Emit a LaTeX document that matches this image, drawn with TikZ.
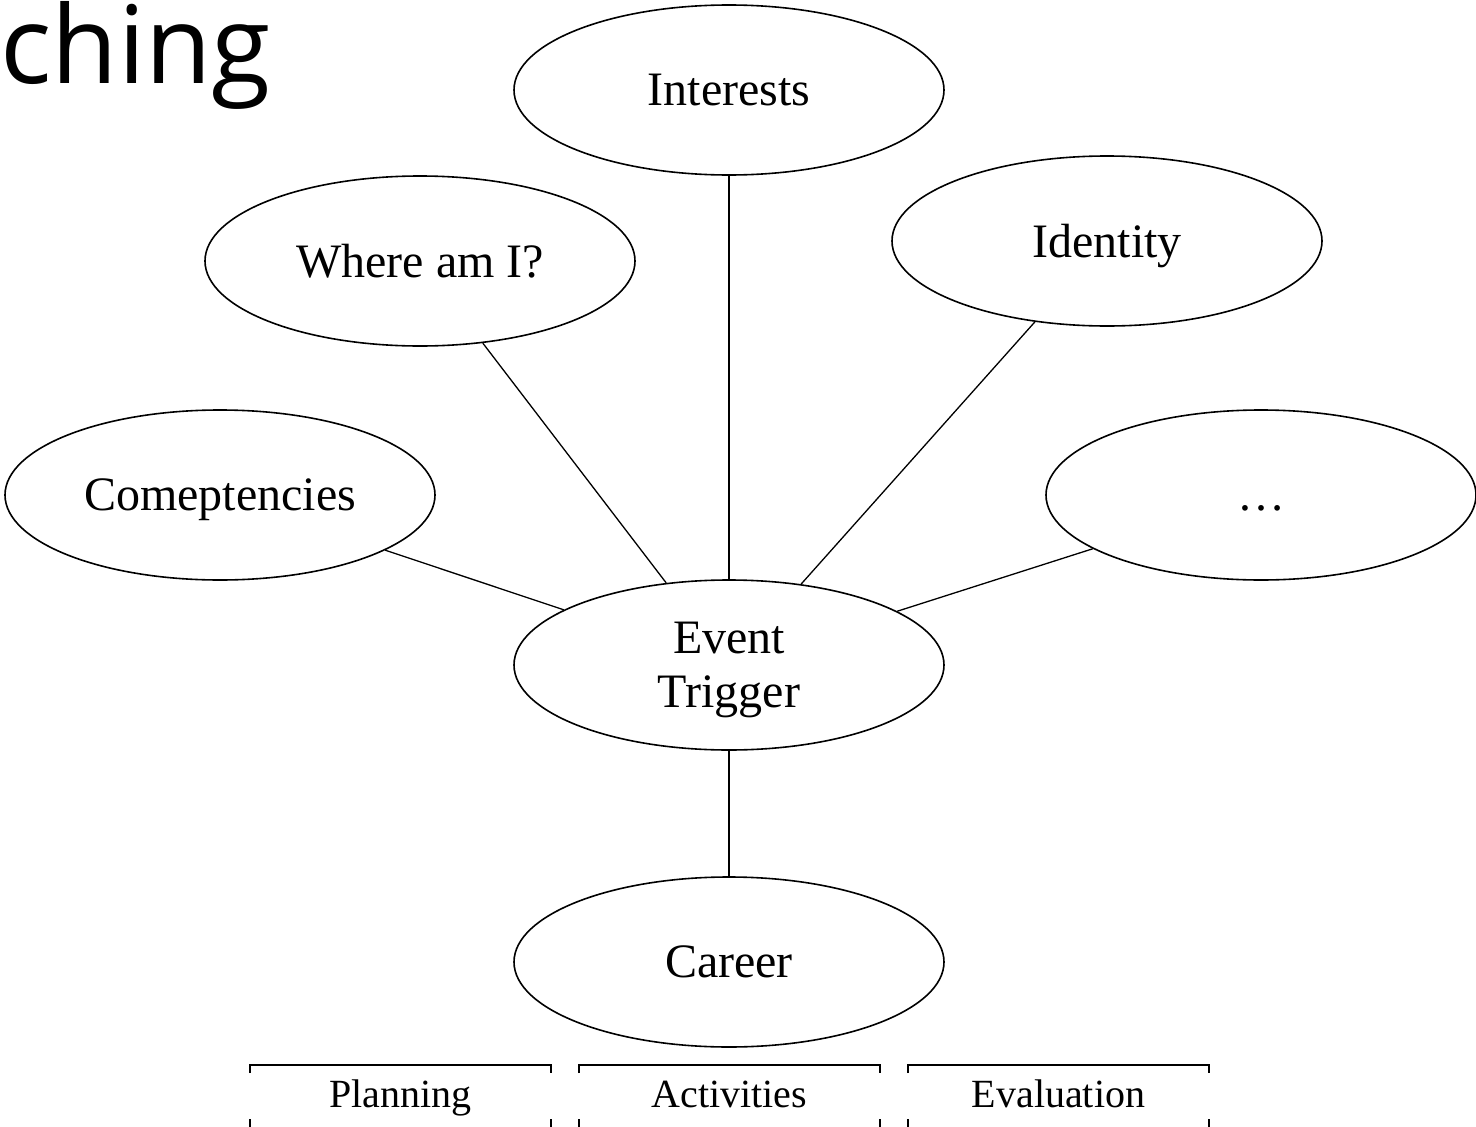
\documentclass[tikz,border=0pt]{standalone}
\usepackage{fontspec}
\setmainfont{Liberation Serif}
\newfontfamily\titlefont{Open Sans}
\usetikzlibrary{shapes.geometric}
\begin{document}
\begin{tikzpicture}[x=1pt,y=-1pt,
  bubble/.style={ellipse,draw,line width=1.6pt,minimum width=430pt,minimum height=170pt,inner sep=0pt,
    font=\fontsize{48}{54}\selectfont,align=center,text depth=0pt},
  link/.style={line width=1.3pt},
  bracket/.style={line width=1.3pt},
  lbl/.style={font=\fontsize{40}{44}\selectfont,anchor=base}]
\clip (0,0) rectangle (1476,1127);
\useasboundingbox (0,0) rectangle (1476,1127);
\fill[white] (0,0) rectangle (1476,1127);
\node[anchor=base east,inner sep=0pt,font=\titlefont\fontsize{108}{116}\selectfont] (title) at (271,83) {ching};
\node[bubble] (interests) at (729,90) {Interests};
\node[bubble] (where) at (420,261) {Where am I?};
\node[bubble] (identity) at (1107,241) {Identity};
\node[bubble] (comp) at (220,495) {Comeptencies};
\node[bubble] (more) at (1261,495) {\vphantom{C}…};
\node[bubble] (event) at (729,665) {Event\\Trigger};
\node[bubble] (career) at (729,962) {Career};
\draw[link] (interests) -- (event);
\draw[link] (where) -- (event);
\draw[link] (identity) -- (event);
\draw[link] (comp) -- (event);
\draw[link] (more) -- (event);
\draw[link] (event) -- (career);
\node[lbl] (plan) at (400.5,1107) {Planning};
\node[lbl] (act) at (729.5,1107) {Activities};
\node[lbl] (eval) at (1058.5,1107) {Evaluation};
\foreach \a/\b in {250/551,579/880,908/1209}{
  \draw[bracket] (\a,1073) -- (\a,1065) -- (\b,1065) -- (\b,1073);
  \draw[bracket] (\a,1119) -- (\a,1127);
  \draw[bracket] (\b,1119) -- (\b,1127);
}
\end{tikzpicture}
\end{document}
